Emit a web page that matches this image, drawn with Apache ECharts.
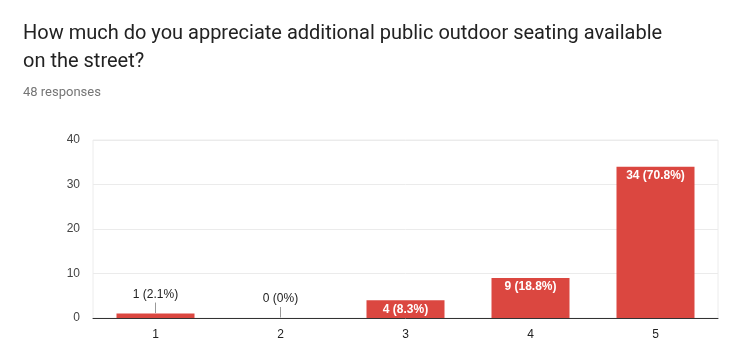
<!DOCTYPE html>
<html>
<head>
<meta charset="utf-8">
<script src="https://cdn.jsdelivr.net/npm/echarts@6/dist/echarts.min.js"></script>
<style>html,body{margin:0;padding:0;background:#fff}#c{width:737px;height:364px}</style>
</head>
<body>
<div id="c"></div>
<script>
const categories = ['1', '2', '3', '4', '5'];
const counts = [1, 0, 4, 9, 34];
const percentLabels = ['2.1%', '0%', '8.3%', '18.8%', '70.8%'];
const yTicks = [0, 10, 20, 30, 40];
const titleText = 'How much do you appreciate additional public outdoor seating available\non the street?';
const subtitleText = '48 responses';

const chart = echarts.init(document.getElementById('c'));
const OUTSIDE_LIMIT = 2; // values this small get their label above with a leader line

const barData = counts.map((v, i) => {
  const text = v + ' (' + percentLabels[i] + ')';
  if (v <= OUTSIDE_LIMIT) {
    return {value: v, label: {show: true, position: 'top', distance: 13, color: '#222', fontWeight: 'normal', formatter: text}};
  }
  return {value: v, label: {show: true, position: 'insideTop', distance: 3, color: '#fff', fontWeight: 'bold', formatter: text}};
});

chart.setOption({
  animation: false,
  textStyle: {fontFamily: 'Liberation Sans, Arial, sans-serif'},
  title: [
    {text: titleText, left: 18, top: 15, textStyle: {fontFamily: 'Roboto', fontSize: 20, fontWeight: 'normal', color: '#222', lineHeight: 28}},
    {text: subtitleText, left: 18, top: 81, textStyle: {fontFamily: 'Roboto', fontSize: 13, fontWeight: 'normal', color: '#757575'}}
  ],
  grid: {left: 93, right: 19, top: 140, bottom: 46, show: true, borderColor: '#ececec', borderWidth: 1},
  xAxis: {
    type: 'category', data: categories,
    axisLine: {lineStyle: {color: '#333', width: 1}},
    axisTick: {show: false},
    axisLabel: {color: '#222', fontSize: 12, margin: 11}
  },
  yAxis: {
    type: 'value', min: yTicks[0], max: yTicks[yTicks.length - 1], interval: 10,
    axisLine: {show: false}, axisTick: {show: false},
    axisLabel: {color: '#444', fontSize: 12, margin: 13},
    splitLine: {lineStyle: {color: '#ebebeb'}}
  },
  series: [
    {
      type: 'bar', data: barData, barWidth: 78,
      itemStyle: {color: '#db4740'},
      label: {fontSize: 12}
    },
    {
      type: 'custom',
      data: counts.map((v, i) => [i, v]).filter(d => d[1] <= OUTSIDE_LIMIT),
      silent: true,
      renderItem: function (params, api) {
        const p = api.coord([api.value(0), api.value(1)]);
        return {type: 'line', shape: {x1: p[0], y1: p[1] - 0.5, x2: p[0], y2: p[1] - 11}, style: {stroke: '#999', lineWidth: 1}};
      },
      z: 3
    }
  ]
});
</script>
</body>
</html>
